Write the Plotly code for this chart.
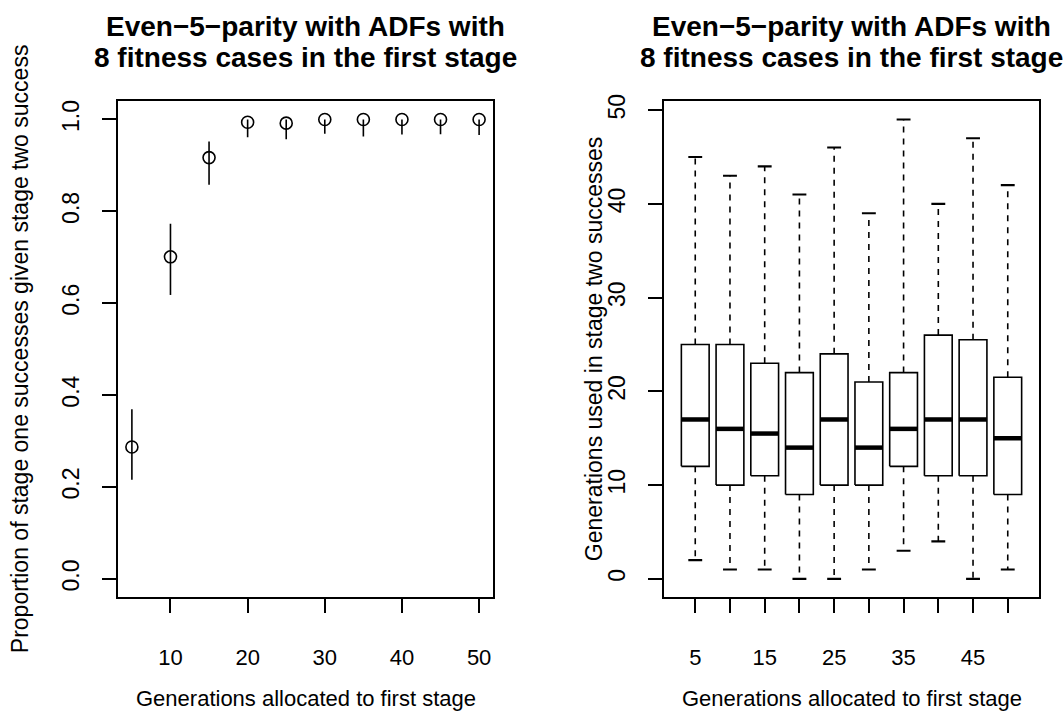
import plotly.graph_objects as go

# ---- data ----
gens = [5, 10, 15, 20, 25, 30, 35, 40, 45, 50]
prop = [0.287, 0.701, 0.917, 0.994, 0.992, 1.0, 1.0, 1.0, 1.0, 1.0]
prop_lo = [0.216, 0.618, 0.858, 0.961, 0.957, 0.969, 0.963, 0.967, 0.968, 0.966]
prop_hi = [0.369, 0.773, 0.952, 1.0, 1.0, 1.0, 1.0, 1.0, 1.0, 1.0]

box_upper = [45, 43, 44, 41, 46, 39, 49, 40, 47, 42]
box_q3 = [25, 25, 23, 22, 24, 21, 22, 26, 25.5, 21.5]
box_med = [17, 16, 15.5, 14, 17, 14, 16, 17, 17, 15]
box_q1 = [12, 10, 11, 9, 10, 10, 12, 11, 11, 9]
box_lower = [2, 1, 1, 0, 0, 1, 3, 4, 0, 1]

title_l1 = "Even\u22125\u2212parity with ADFs with"
title_l2 = "8 fitness cases in the first stage"
xlab = "Generations allocated to first stage"
ylab_left = "Proportion of stage one successes given stage two success"
ylab_right = "Generations used in stage two successes"

W, H = 1063, 726
FONT = "Liberation Sans, Arial, Helvetica, sans-serif"
FS = 22      # horizontal text
FSV = 23     # rotated (vertical) text
LW = 1.6
half = 0.4   # half box width
shalf = 0.2  # half staple width

fig = go.Figure()

# ---- left panel: points with error bars ----
fig.add_trace(go.Scatter(
    x=gens, y=prop, mode="markers",
    marker=dict(symbol="circle-open", size=12, color="black", line=dict(width=LW)),
    error_y=dict(type="data", symmetric=False,
                 array=[h - p for h, p in zip(prop_hi, prop)],
                 arrayminus=[p - l for p, l in zip(prop, prop_lo)],
                 width=0, thickness=LW, color="black"),
    xaxis="x", yaxis="y", showlegend=False, hoverinfo="skip"))

# ---- right panel: boxplots built from stats ----
pos = list(range(1, len(gens) + 1))
rx, ry, wx, wy, sx, sy, mx, my = [], [], [], [], [], [], [], []
for p, lo, q1, md, q3, up in zip(pos, box_lower, box_q1, box_med, box_q3, box_upper):
    rx += [p - half, p + half, p + half, p - half, p - half, None]
    ry += [q1, q1, q3, q3, q1, None]
    wx += [p, p, None, p, p, None]
    wy += [q3, up, None, q1, lo, None]
    sx += [p - shalf, p + shalf, None, p - shalf, p + shalf, None]
    sy += [up, up, None, lo, lo, None]
    mx += [p - half, p + half, None]
    my += [md, md, None]

common = dict(xaxis="x2", yaxis="y2", showlegend=False, hoverinfo="skip", mode="lines")
fig.add_trace(go.Scatter(x=wx, y=wy, line=dict(color="black", width=LW, dash="6px,6px"), **common))
fig.add_trace(go.Scatter(x=sx, y=sy, line=dict(color="black", width=LW * 1.3), **common))
fig.add_trace(go.Scatter(x=rx, y=ry, line=dict(color="black", width=LW), **common))
fig.add_trace(go.Scatter(x=mx, y=my, line=dict(color="black", width=4.5), **common))

# ---- layout ----
L1, R1 = 118 / W, 493 / W
L2, R2 = 664 / W, 1039 / W
B, T = 1 - 596 / H, 1 - 95 / H

axis_common = dict(showline=True, mirror=True, linecolor="black", linewidth=LW,
                   ticks="outside", ticklen=14, tickwidth=LW, tickcolor="black",
                   showgrid=False, zeroline=False)
xtick = dict(family=FONT, size=FS, color="black")
ytick = dict(family=FONT, size=FSV, color="black")

fig.update_layout(
    width=W, height=H, margin=dict(l=0, r=0, t=0, b=0),
    paper_bgcolor="white", plot_bgcolor="white",
    font=dict(family=FONT, size=FS, color="black"),
    xaxis=dict(domain=[L1, R1], range=[3.2, 51.8], tickvals=[10, 20, 30, 40, 50],
               ticklabelstandoff=26, anchor="y", tickfont=xtick, **axis_common),
    yaxis=dict(domain=[B, T], range=[-0.04, 1.04], tickvals=[0, 0.2, 0.4, 0.6, 0.8, 1.0],
               ticktext=["0.0", "0.2", "0.4", "0.6", "0.8", "1.0"], tickangle=-90,
               ticklabelstandoff=14, anchor="x", tickfont=ytick, **axis_common),
    xaxis2=dict(domain=[L2, R2], range=[0.1, 10.9], tickvals=pos,
                ticktext=[str(g) if i % 2 == 0 else "" for i, g in enumerate(gens)],
                ticklabelstandoff=26, anchor="y2", tickfont=xtick, **axis_common),
    yaxis2=dict(domain=[B, T], range=[-1.96, 50.96], tickvals=[0, 10, 20, 30, 40, 50],
                tickangle=-90, ticklabelstandoff=14, anchor="x2", tickfont=ytick, **axis_common),
)

ann = []
for cx in [(L1 + R1) / 2, (L2 + R2) / 2]:
    ann.append(dict(text="<b>" + title_l1 + "</b>", x=cx, y=1 - 20 / H, xref="paper", yref="paper",
                    showarrow=False, xanchor="center", yanchor="middle",
                    font=dict(family=FONT, size=28, color="black")))
    ann.append(dict(text="<b>" + title_l2 + "</b>", x=cx, y=1 - 51 / H, xref="paper", yref="paper",
                    showarrow=False, xanchor="center", yanchor="middle",
                    font=dict(family=FONT, size=28, color="black")))
    ann.append(dict(text=xlab, x=cx, y=1 - 698 / H, xref="paper", yref="paper",
                    showarrow=False, xanchor="center", yanchor="middle",
                    font=dict(family=FONT, size=FS, color="black")))
ann.append(dict(text=ylab_left, x=20 / W, y=(B + T) / 2, xref="paper", yref="paper",
                textangle=-90, showarrow=False, xanchor="center", yanchor="middle",
                font=dict(family=FONT, size=FSV, color="black")))
ann.append(dict(text=ylab_right, x=594 / W, y=(B + T) / 2, xref="paper", yref="paper",
                textangle=-90, showarrow=False, xanchor="center", yanchor="middle",
                font=dict(family=FONT, size=FSV, color="black")))
fig.update_layout(annotations=ann)

fig.write_html("out.html")
